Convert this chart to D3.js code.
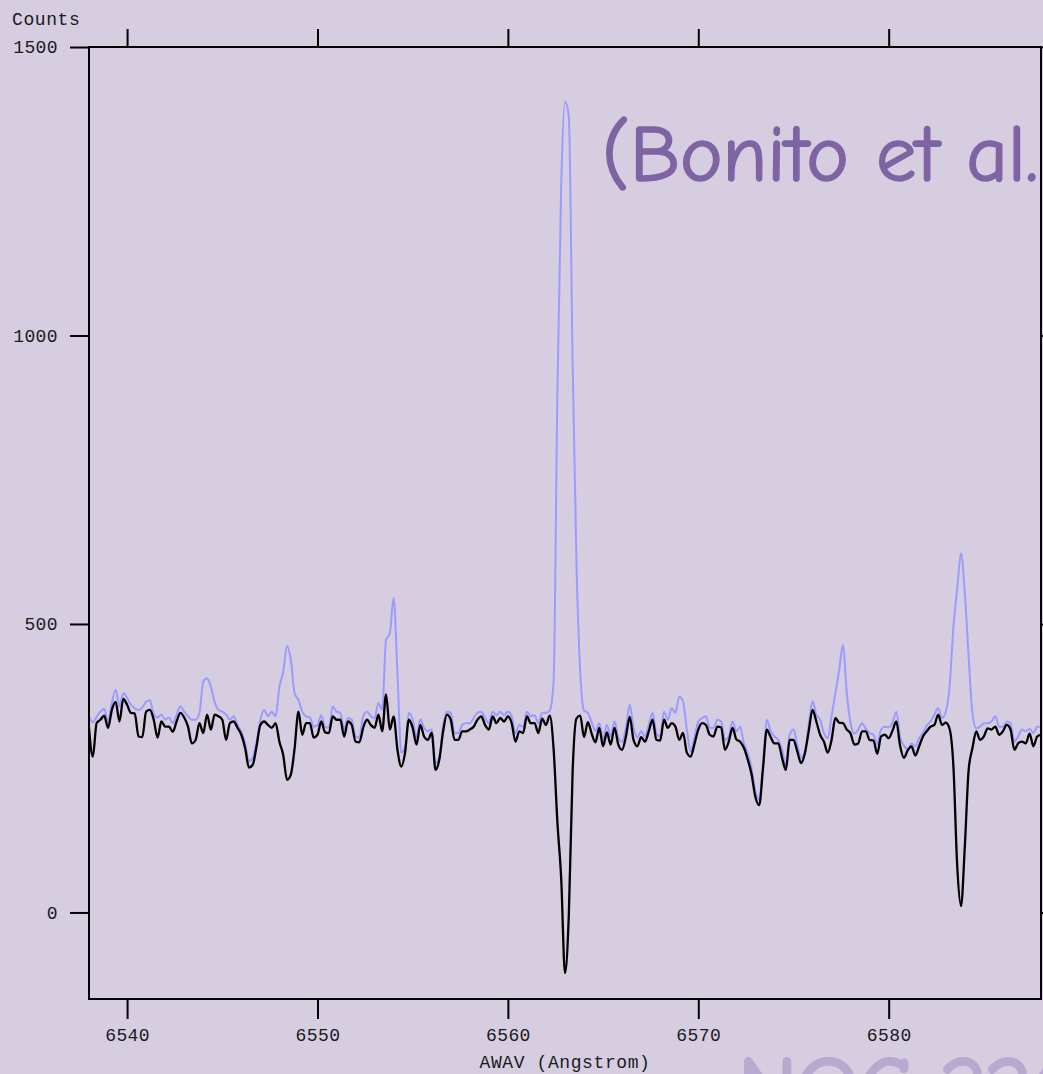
<!DOCTYPE html>
<html>
<head>
<meta charset="utf-8">
<script src="https://cdn.jsdelivr.net/npm/d3@7"></script>
<style>
  html, body { margin: 0; padding: 0; background: #d6cde1; }
  svg { display: block; }
  .axis text { font-family: "Courier New", "Liberation Mono", monospace; font-size: 18px; fill: #1a1a1a; letter-spacing: 0.4px; }
  .axis line { stroke: #000; stroke-width: 2; }
  .axis path { display: none; }
</style>
</head>
<body>
<svg id="chart" width="1043" height="1074"></svg>
<script>
// Spectrum sampling (Angstrom, air wavelengths)
const lambdaStart = 6538.0;
const lambdaStep = 0.2;

// Observed counts (with nebular emission)
const observed = [
  340,330,339,348,353,331,363,386,357,380,372,360,354,351,355,365,368,343,338,343,
  334,338,328,343,357,348,340,334,334,346,400,406,391,365,351,348,343,334,340,325,
  313,293,262,268,296,334,351,340,348,340,391,417,462,438,380,368,348,340,338,322,
  325,342,322,320,357,348,346,317,337,334,305,303,340,348,340,337,363,351,472,484,
  545,415,277,288,346,334,303,335,320,314,317,259,270,325,348,346,311,311,325,328,
  328,337,346,348,337,328,348,342,348,342,348,340,311,325,322,348,340,342,328,346,
  346,350,400,900,1258,1405,1380,954,609,417,350,346,330,315,328,299,325,305,331,303,
  296,320,360,320,303,314,305,325,346,311,305,348,334,354,346,374,366,317,279,303,
  331,337,340,320,320,334,331,299,305,331,314,322,293,276,250,210,196,259,334,314,
  305,299,282,256,308,317,291,268,279,325,366,343,334,311,302,340,380,420,464,380,
  328,310,317,328,318,311,308,291,317,322,321,329,348,304,289,283,293,288,302,311,
  324,331,343,354,337,348,392,495,562,622,553,443,345,319,322,328,328,331,340,322,
  322,331,328,296,305,317,314,318,311,322,322
];

// Counts after sky subtraction
const subtracted = [
  320,270,328,334,341,320,351,365,331,370,360,346,345,305,304,348,351,334,303,331,
  322,322,313,331,346,338,322,293,299,328,311,343,317,343,340,334,299,328,331,320,
  308,285,251,256,288,325,331,325,320,328,296,273,230,239,285,348,308,328,328,303,
  308,331,312,311,340,334,334,305,331,325,296,295,320,334,325,320,343,314,378,317,
  340,282,253,277,334,320,291,325,305,299,311,247,265,314,343,334,299,299,314,314,
  317,322,334,340,325,317,340,328,337,331,340,328,296,314,311,340,328,328,311,336,
  325,341,284,157,59,-105,-5,244,336,341,304,330,310,295,320,288,312,291,320,291,
  282,305,339,299,288,304,296,314,334,299,298,334,320,328,322,299,311,277,270,292,
  317,328,325,308,305,322,321,282,296,320,300,296,285,265,239,200,186,250,317,304,
  293,293,268,247,299,299,279,259,276,314,351,331,308,296,277,299,337,329,328,317,
  310,291,293,314,314,299,298,275,305,308,302,315,331,289,268,281,288,272,288,305,
  314,322,325,343,325,329,318,253,80,11,115,247,285,314,299,305,319,317,322,308,
  314,325,317,282,293,296,293,310,288,305,308
];

const xTicks = [6540, 6550, 6560, 6570, 6580];
const yTicks = [0, 500, 1000, 1500];
const xDomain = [6538, 6588];
const yDomain = [-150, 1500];

const svg = d3.select("#chart");
const W = 1043, H = 1074;
const plot = { left: 89, top: 47, right: 1041, bottom: 999 };

svg.append("rect").attr("width", W).attr("height", H).attr("fill", "#d6cde1");

const x = d3.scaleLinear().domain(xDomain).range([plot.left, plot.right]);
const y = d3.scaleLinear().domain(yDomain).range([plot.bottom, plot.top]);

const handFont = "'Comic Sans MS', 'Comic Neue', Lato, sans-serif";

// Background watermark, running off the bottom edge
svg.append("text")
  .attr("x", 738).attr("y", 1120)
  .attr("fill", "#b9a8cf")
  .attr("stroke", "#b9a8cf").attr("stroke-width", 3)
  .attr("font-family", handFont)
  .attr("font-size", 90)
  .attr("letter-spacing", -2)
  .text("NGC 2264");

// Citation in the upper right
svg.append("text")
  .attr("x", 602).attr("y", 181)
  .attr("fill", "#7f64a3")
  .attr("stroke", "#7f64a3").attr("stroke-width", 1.6)
  .attr("font-family", handFont)
  .attr("font-size", 80)
  .attr("textLength", 436)
  .attr("lengthAdjust", "spacingAndGlyphs")
  .text("(Bonito et al.");

const toPoints = vals => vals.map((v, i) => [lambdaStart + i * lambdaStep, v]);

svg.append("clipPath").attr("id", "plotclip")
  .append("rect")
  .attr("x", plot.left).attr("y", plot.top)
  .attr("width", plot.right - plot.left).attr("height", plot.bottom - plot.top);

const line = d3.line()
  .curve(d3.curveMonotoneX)
  .x(d => x(d[0]))
  .y(d => y(d[1]));

const g = svg.append("g").attr("clip-path", "url(#plotclip)");
g.append("path")
  .datum(toPoints(observed))
  .attr("d", line)
  .attr("fill", "none")
  .attr("stroke", "#9a9aff")
  .attr("stroke-width", 2)
  .attr("stroke-linejoin", "round");
g.append("path")
  .datum(toPoints(subtracted))
  .attr("d", line)
  .attr("fill", "none")
  .attr("stroke", "#000")
  .attr("stroke-width", 2.3)
  .attr("stroke-linejoin", "round");

// Frame
svg.append("rect")
  .attr("x", plot.left).attr("y", plot.top)
  .attr("width", plot.right - plot.left).attr("height", plot.bottom - plot.top)
  .attr("fill", "none").attr("stroke", "#000").attr("stroke-width", 2);

// Axes
svg.append("g").attr("class", "axis")
  .attr("transform", `translate(0,${plot.bottom})`)
  .call(d3.axisBottom(x).tickValues(xTicks).tickSize(20).tickPadding(9).tickFormat(d3.format("d")));
svg.append("g").attr("class", "axis")
  .attr("transform", `translate(0,${plot.top})`)
  .call(d3.axisTop(x).tickValues(xTicks).tickSize(18).tickFormat(""));
svg.append("g").attr("class", "axis")
  .attr("transform", `translate(${plot.left},0)`)
  .call(d3.axisLeft(y).tickValues(yTicks).tickSize(19).tickPadding(12).tickFormat(d3.format("d")));
svg.append("g").attr("class", "axis")
  .attr("transform", `translate(${plot.right},0)`)
  .call(d3.axisRight(y).tickValues(yTicks).tickSize(18).tickFormat(""));

// Axis titles
svg.append("text")
  .attr("x", 12).attr("y", 25)
  .attr("font-family", "'Courier New', 'Liberation Mono', monospace")
  .attr("font-size", 18).attr("letter-spacing", 0.6).attr("fill", "#1a1a1a")
  .text("Counts");
svg.append("text")
  .attr("x", (plot.left + plot.right) / 2).attr("y", 1068)
  .attr("text-anchor", "middle")
  .attr("font-family", "'Courier New', 'Liberation Mono', monospace")
  .attr("font-size", 18).attr("letter-spacing", 0.6).attr("fill", "#1a1a1a")
  .text("AWAV (Angstrom)");
</script>
</body>
</html>
